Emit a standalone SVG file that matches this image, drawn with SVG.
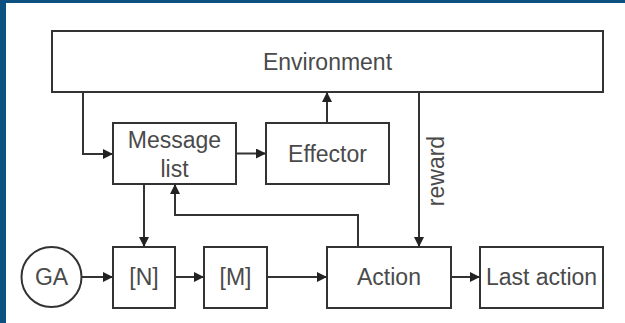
<svg xmlns="http://www.w3.org/2000/svg" width="625" height="323" viewBox="0 0 625 323">
<style>
.box{fill:#fff;stroke:#333;stroke-width:2}
.lbl{font-family:"Liberation Sans",Arial,sans-serif;font-size:23px;fill:#4a4a4a;text-anchor:middle}
.conn{fill:none;stroke:#333;stroke-width:2}
</style>
<defs>
<marker id="ah" viewBox="0 0 10 10" refX="10" refY="5" markerWidth="10" markerHeight="10" markerUnits="userSpaceOnUse" orient="auto">
<path d="M0,0 L10,5 L0,10 Z" fill="#222"/>
</marker>
</defs>
<rect x="0" y="0" width="625" height="323" fill="#fff"/>
<rect x="0" y="0" width="625" height="3" fill="#0d5183"/>
<rect x="0" y="0" width="6" height="323" fill="#0d5183"/>
<g id="environment"><rect class="box" x="52" y="31" width="551" height="61"/><text class="lbl" x="327.5" y="70">Environment</text></g>
<g id="message-list"><rect class="box" x="113" y="123" width="123" height="61"/><text class="lbl" x="174.5" y="148">Message</text><text class="lbl" x="174.5" y="177">list</text></g>
<g id="effector"><rect class="box" x="266" y="123" width="123" height="61"/><text class="lbl" x="327.5" y="162">Effector</text></g>
<g id="ga"><circle cx="51.5" cy="277" r="30" fill="#fff" stroke="#333" stroke-width="2"/><text class="lbl" x="51.5" y="285">GA</text></g>
<g id="n"><rect class="box" x="113" y="247" width="62" height="61"/><text class="lbl" x="144" y="285">[N]</text></g>
<g id="m"><rect class="box" x="204" y="247" width="63" height="61"/><text class="lbl" x="235.5" y="285">[M]</text></g>
<g id="action"><rect class="box" x="327" y="247" width="124" height="61"/><text class="lbl" x="389" y="285">Action</text></g>
<g id="last-action"><rect class="box" x="480" y="247" width="123" height="61"/><text class="lbl" x="541.5" y="285">Last action</text></g>
<g id="connectors">
<path class="conn" d="M83,92 V154 H113" marker-end="url(#ah)"/>
<path class="conn" d="M236,153.5 H266" marker-end="url(#ah)"/>
<path class="conn" d="M327,123 V92" marker-end="url(#ah)"/>
<path class="conn" d="M419,92 V247" marker-end="url(#ah)"/>
<path class="conn" d="M144,184 V247" marker-end="url(#ah)"/>
<path class="conn" d="M358,247 V215 H175 V184" marker-end="url(#ah)"/>
<path class="conn" d="M82,277 H113" marker-end="url(#ah)"/>
<path class="conn" d="M175,277 H204" marker-end="url(#ah)"/>
<path class="conn" d="M267,277 H327" marker-end="url(#ah)"/>
<path class="conn" d="M451,277 H480" marker-end="url(#ah)"/>
<text class="lbl" transform="translate(444,171) rotate(-90)" x="0" y="0">reward</text>
</g>
</svg>
